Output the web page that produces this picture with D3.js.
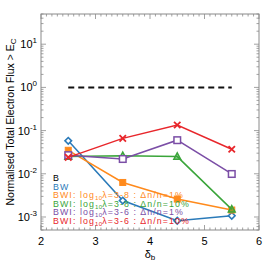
<!DOCTYPE html>
<html lang="en">
<head>
<meta charset="utf-8">
<title>Electron flux</title>
<script src="https://d3js.org/d3.v7.min.js"></script>
<style>
  body { margin: 0; background: #fff; }
  text { font-family: "Liberation Sans", Arial, sans-serif; }
</style>
</head>
<body>
<script>
// data
var deltas = [2.5, 3.5, 4.5, 5.5];
var fluxB   = [1, 1, 1, 1];
var fluxBW  = [0.058, 0.0024, 0.00082, 0.00107];
var fluxO   = [0.035, 0.0063, 0.0026, 0.00145];
var fluxG   = [0.025, 0.026, 0.025, 0.0015];
var fluxP   = [0.027, 0.022, 0.060, 0.0099];
var fluxR   = [0.024, 0.066, 0.135, 0.037];
var xTicks = [2, 3, 4, 5, 6];
var yExps  = [-3, -2, -1, 0, 1];

var series = [
  {name: "BW",  vals: fluxBW, color: "#2a7ab9", marker: "diamond"},
  {name: "O",   vals: fluxO,  color: "#ff8a1c", marker: "fsquare"},
  {name: "G",   vals: fluxG,  color: "#3aa53a", marker: "triangle"},
  {name: "P",   vals: fluxP,  color: "#7b4ea6", marker: "square"},
  {name: "R",   vals: fluxR,  color: "#e8262b", marker: "cross"}
];

var legendItems = [
  {color: "#000", parts: ["B"]},
  {color: "#2a7ab9", parts: ["BW"]},
  {color: "#ff8a1c", lam: "3-8", dn: "1%"},
  {color: "#3aa53a", lam: "3-8", dn: "10%"},
  {color: "#7b4ea6", lam: "3-6", dn: "1%"},
  {color: "#e8262b", lam: "3-6", dn: "10%"}
];

var W = 273, H = 273;
var m = {left: 41, right: 14, top: 14, bottom: 43};

var svg = d3.select("body").append("svg")
    .attr("width", W).attr("height", H);

var x = d3.scaleLinear().domain([2, 6]).range([m.left, W - m.right]);
var y = d3.scaleLog().domain([5e-4, 50]).range([H - m.bottom, m.top]);

var axisCol = "#8a8a8a";

// frame
svg.append("rect")
    .attr("x", x(2)).attr("y", y(50))
    .attr("width", x(6) - x(2)).attr("height", y(5e-4) - y(50))
    .attr("fill", "none").attr("stroke", axisCol).attr("stroke-width", 1);

// x ticks, top and bottom, pointing inward
var xMinor = d3.range(20, 61).map(function(d) { return d / 10; });
xMinor.forEach(function(v) {
  var major = Math.abs(v - Math.round(v)) < 1e-6;
  var len = major ? 5 : 2.5;
  svg.append("line").attr("x1", x(v)).attr("x2", x(v))
      .attr("y1", y(5e-4)).attr("y2", y(5e-4) - len)
      .attr("stroke", axisCol).attr("stroke-width", 0.8);
  svg.append("line").attr("x1", x(v)).attr("x2", x(v))
      .attr("y1", y(50)).attr("y2", y(50) + len)
      .attr("stroke", axisCol).attr("stroke-width", 0.8);
});

// y ticks, log minors
var yTickVals = [];
for (var e = -4; e <= 1; e++) {
  for (var k = 1; k <= 9; k++) {
    var v = k * Math.pow(10, e);
    if (v >= 5e-4 && v <= 50) yTickVals.push({v: v, major: k === 1});
  }
}
yTickVals.forEach(function(t) {
  var len = t.major ? 5 : 2.5;
  svg.append("line").attr("x1", x(2)).attr("x2", x(2) + len)
      .attr("y1", y(t.v)).attr("y2", y(t.v))
      .attr("stroke", axisCol).attr("stroke-width", 0.8);
  svg.append("line").attr("x1", x(6)).attr("x2", x(6) - len)
      .attr("y1", y(t.v)).attr("y2", y(t.v))
      .attr("stroke", axisCol).attr("stroke-width", 0.8);
});

// tick labels
svg.selectAll(".xl").data(xTicks).enter().append("text")
    .attr("x", function(d) { return x(d); })
    .attr("y", y(5e-4) + 15)
    .attr("text-anchor", "middle")
    .attr("font-size", 11)
    .text(function(d) { return d; });

yExps.forEach(function(ex) {
  var t = svg.append("text")
      .attr("x", x(2) - 4).attr("y", y(Math.pow(10, ex)) + 4)
      .attr("text-anchor", "end").attr("font-size", 11);
  t.append("tspan").text("10");
  t.append("tspan").attr("dy", -5).attr("font-size", 8).text(ex);
});

// axis labels
var yl = svg.append("text")
    .attr("transform", "translate(14," + ((m.top + H - m.bottom) / 2) + ") rotate(-90)")
    .attr("text-anchor", "middle").attr("font-size", 10.5);
yl.append("tspan").text("Normalised Total Electron Flux > E");
yl.append("tspan").attr("dy", 2).attr("font-size", 8).text("C");

var xl = svg.append("text")
    .attr("x", x(4)).attr("y", y(5e-4) + 28)
    .attr("text-anchor", "middle").attr("font-size", 11);
xl.append("tspan").text("\u03b4");
xl.append("tspan").attr("dy", 2).attr("font-size", 8).text("b");

// B: dashed reference at 1
var line = d3.line()
    .x(function(d) { return x(d[0]); })
    .y(function(d) { return y(d[1]); });

svg.append("path")
    .datum(deltas.map(function(d, i) { return [d, fluxB[i]]; }))
    .attr("d", line)
    .attr("fill", "none").attr("stroke", "#111").attr("stroke-width", 2)
    .attr("stroke-dasharray", "6,4");

series.forEach(function(s) {
  var pts = deltas.map(function(d, i) { return [d, s.vals[i]]; });
  svg.append("path").datum(pts).attr("d", line)
      .attr("fill", "none").attr("stroke", s.color).attr("stroke-width", 1.5);
  var g = svg.append("g");
  pts.forEach(function(p) {
    var cx = x(p[0]), cy = y(p[1]);
    if (s.marker === "diamond") {
      g.append("path").attr("d", "M" + cx + "," + (cy - 3.3) + "L" + (cx + 3.3) + "," + cy +
          "L" + cx + "," + (cy + 3.3) + "L" + (cx - 3.3) + "," + cy + "Z")
          .attr("fill", "#fff").attr("stroke", s.color).attr("stroke-width", 1.6);
    } else if (s.marker === "fsquare") {
      g.append("rect").attr("x", cx - 3).attr("y", cy - 3).attr("width", 6).attr("height", 6)
          .attr("fill", s.color).attr("stroke", s.color).attr("stroke-width", 1);
    } else if (s.marker === "triangle") {
      g.append("path").attr("d", "M" + cx + "," + (cy - 3.8) + "L" + (cx + 3.4) + "," + (cy + 2.6) +
          "L" + (cx - 3.4) + "," + (cy + 2.6) + "Z")
          .attr("fill", s.color).attr("fill-opacity", 0.5).attr("stroke", s.color).attr("stroke-width", 1.5);
    } else if (s.marker === "square") {
      g.append("rect").attr("x", cx - 3.3).attr("y", cy - 3.3).attr("width", 6.6).attr("height", 6.6)
          .attr("fill", "#fff").attr("stroke", s.color).attr("stroke-width", 1.5);
    } else {
      g.append("path").attr("d", "M" + (cx - 3.2) + "," + (cy - 3.2) + "L" + (cx + 3.2) + "," + (cy + 3.2) +
          "M" + (cx + 3.2) + "," + (cy - 3.2) + "L" + (cx - 3.2) + "," + (cy + 3.2))
          .attr("stroke", s.color).attr("stroke-width", 1.8);
    }
  });
});

// legend text
legendItems.forEach(function(it, i) {
  var t = svg.append("text")
      .attr("x", 53).attr("y", 181 + i * 8.6)
      .attr("font-size", 8.8).attr("letter-spacing", 1.1).attr("fill", it.color);
  if (it.parts) {
    t.text(it.parts[0]);
  } else {
    t.append("tspan").text("BWI: log");
    t.append("tspan").attr("dy", 2).attr("font-size", 6).attr("letter-spacing", 0.3).text("10");
    t.append("tspan").attr("dy", -2).text("\u03bb=" + it.lam + " : \u0394n/n=" + it.dn);
  }
});
</script>
</body>
</html>
